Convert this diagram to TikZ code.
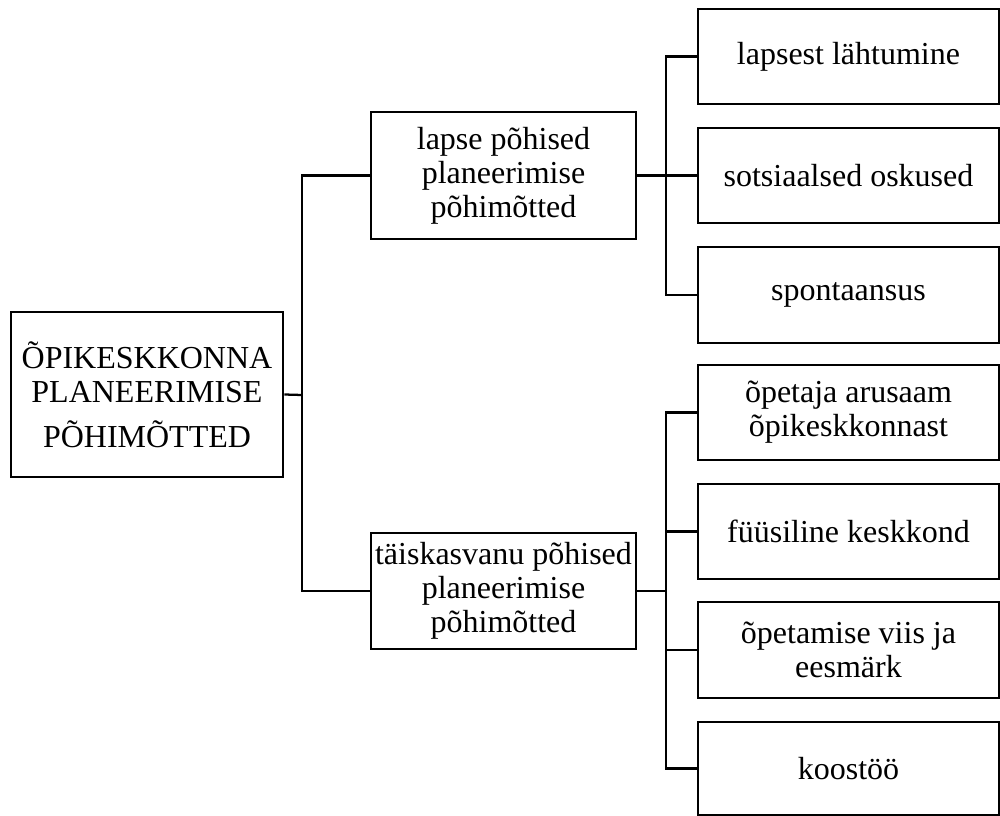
\documentclass[tikz,border=0pt]{standalone}
\usepackage{fontspec}
\setmainfont{Liberation Serif}
\usepackage{tikz}

\begin{document}
\begin{tikzpicture}[x=0.75pt,y=0.75pt,yscale=-1,xscale=1,
  box/.style={draw, line width=2pt, inner sep=0pt, align=center,
    font=\fontsize{24}{25.5}\selectfont},
  wire/.style={line width=1.7pt}]
\useasboundingbox (0,0) rectangle (1000,816);

%Shape: Rectangle [root]
\node [box, minimum width=204pt, minimum height=123.75pt] (root) at (147,394.5)
  {ÕPIKESKKONNA\\PLANEERIMISE\\[8pt]PÕHIMÕTTED};

%Shape: Rectangle [middle]
\node [box, minimum width=198.75pt, minimum height=95.25pt] (lapse) at (503.5,175.5)
  {lapse põhised\\planeerimise\\põhimõtted};
\node [box, minimum width=198.75pt, minimum height=87pt] (taisk) at (503.5,591)
  {täiskasvanu põhised\\planeerimise\\põhimõtted};

%Shape: Rectangle [right, top group]
\node [box, minimum width=225.75pt, minimum height=71.25pt] (l1) at (848.5,56.5) {lapsest lähtumine};
\node [box, minimum width=225.75pt, minimum height=71.25pt] (l2) at (848.5,175.5) {sotsiaalsed oskused};
\node [box, minimum width=225.75pt, minimum height=72pt] (l3) at (848.5,295) {spontaansus};

%Shape: Rectangle [right, bottom group]
\node [box, minimum width=225.75pt, minimum height=71.25pt] (t1) at (848.5,412.5) {õpetaja arusaam\\õpikeskkonnast};
\node [box, minimum width=225.75pt, minimum height=71.25pt] (t2) at (848.5,531.5) {füüsiline keskkond};
\node [box, minimum width=225.75pt, minimum height=72pt] (t3) at (848.5,650) {õpetamise viis ja\\eesmärk};
\node [box, minimum width=225.75pt, minimum height=69.75pt] (t4) at (848.5,768.5) {koostöö};

%Straight Lines [junctions]
\coordinate (j1) at (302,395);
\coordinate (j2) at (666,175.5);
\coordinate (j3) at (666,591);

%Straight Lines [root to middle]
\draw [wire] (root.east) -- (j1);
\draw [wire] (j1) |- (lapse.west);
\draw [wire] (j1) |- (taisk.west);

%Straight Lines [middle to right]
\draw [wire] (lapse.east) -- (j2);
\foreach \n in {l1,l2,l3}
  \draw [wire] (j2) |- (\n.west);
\draw [wire] (taisk.east) -- (j3);
\foreach \n in {t1,t2,t3,t4}
  \draw [wire] (j3) |- (\n.west);
\end{tikzpicture}
\end{document}
